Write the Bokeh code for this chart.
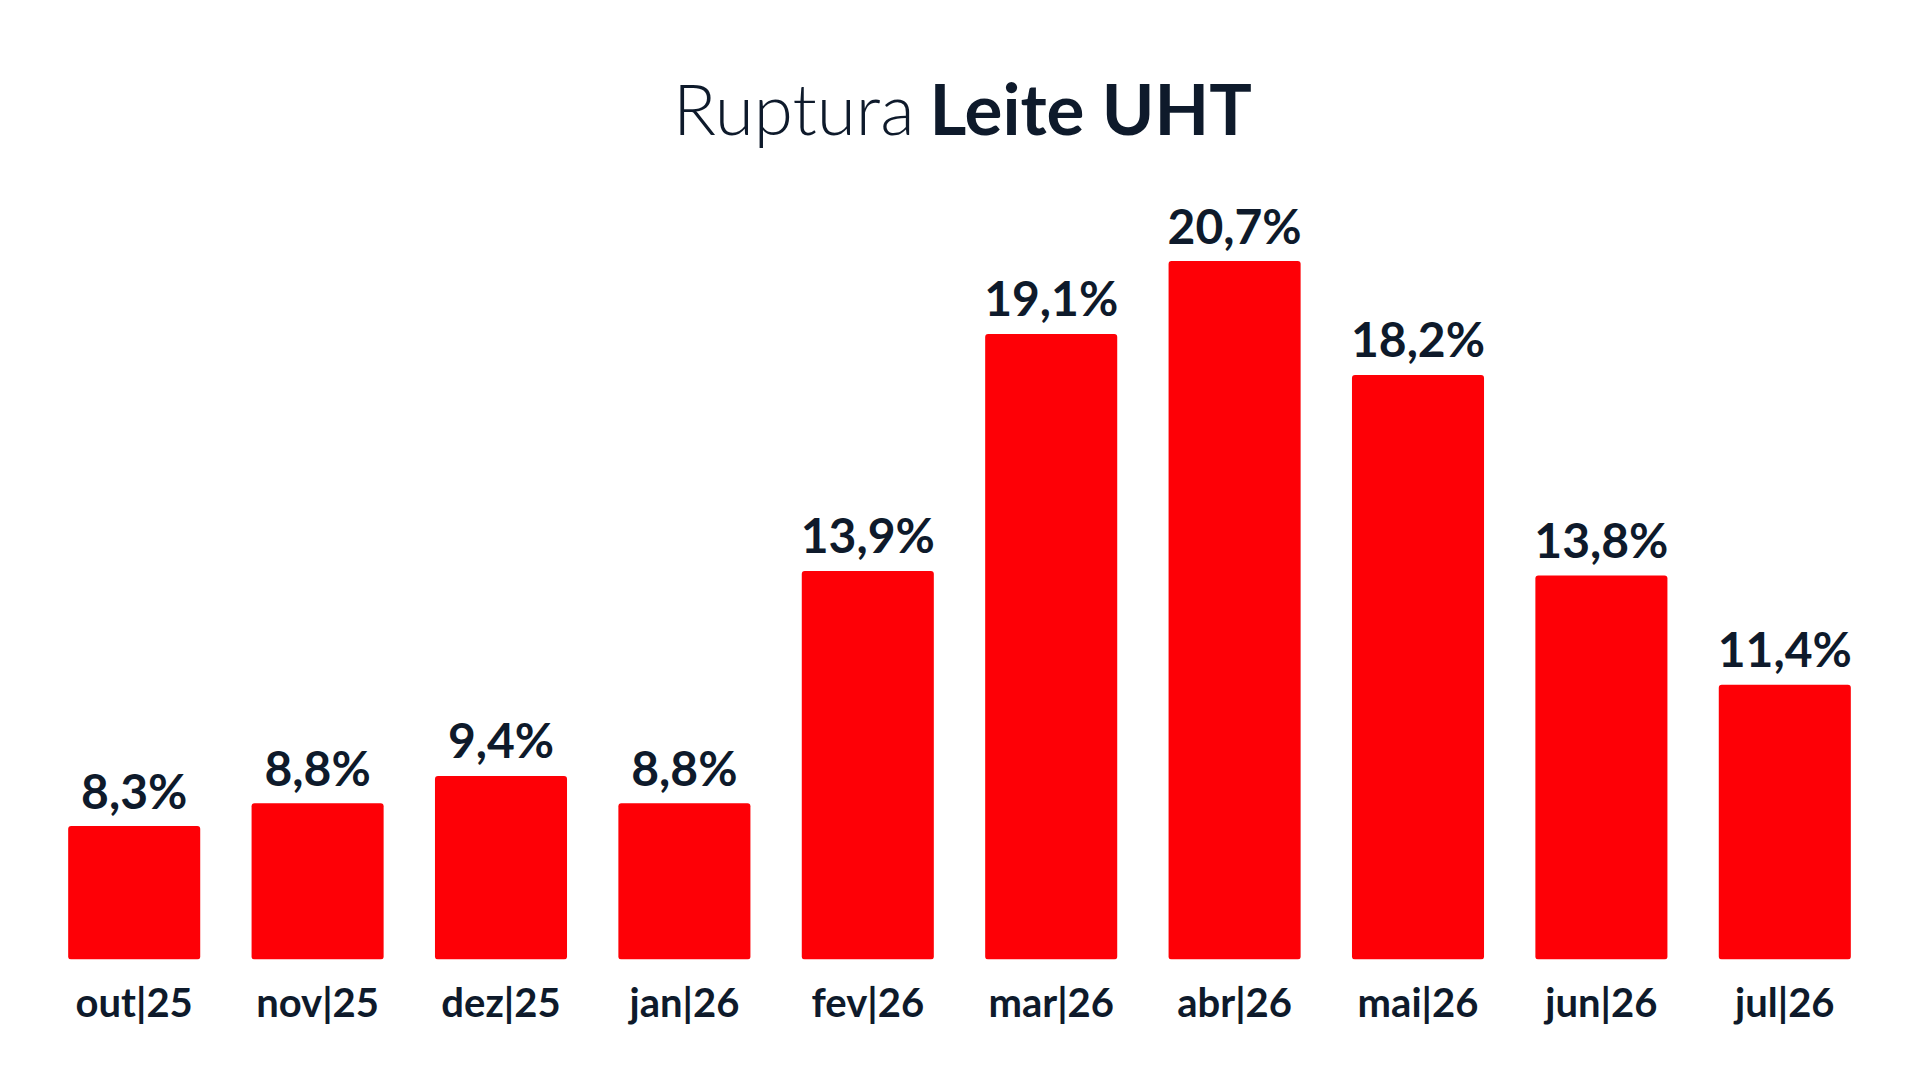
from bokeh.plotting import figure
from bokeh.models import ColumnDataSource, FactorRange, Range1d, Label
from bokeh.core.properties import value
from bokeh.embed import file_html
from bokeh.resources import INLINE

# ---- data ----
months = ["out|25", "nov|25", "dez|25", "jan|26", "fev|26",
          "mar|26", "abr|26", "mai|26", "jun|26", "jul|26"]
ruptura = [8.3, 8.8, 9.4, 8.8, 13.9, 19.1, 20.7, 18.2, 13.8, 11.4]
labels = ["8,3%", "8,8%", "9,4%", "8,8%", "13,9%",
          "19,1%", "20,7%", "18,2%", "13,8%", "11,4%"]
title_light = "Ruptura"
title_bold = "Leite UHT"

# ---- style ----
RED = "#FE0006"
INK = "#0E1A2B"
Y0 = 5.37          # axis baseline value
Y1 = 26.42         # top of the visible range

W, H = 1904, 1064
BL, BR, BT, BB = 42, 28, 0, 105

src = ColumnDataSource(dict(m=months, v=ruptura, lab=labels))

p = figure(width=W, height=H, x_range=FactorRange(*months, range_padding=0),
           y_range=Range1d(Y0, Y1), output_backend="svg", toolbar_location=None,
           min_border_left=BL, min_border_right=BR, min_border_top=BT,
           min_border_bottom=BB, background_fill_color="white",
           border_fill_color="white", outline_line_color=None)

p.vbar(x="m", top="v", bottom=Y0, width=0.72, source=src,
       fill_color=RED, line_color=None, border_radius=3)

p.text(x="m", y="v", text="lab", source=src, text_align="center",
       text_baseline="alphabetic", y_offset=-36,
       text_font=value("Lato"), text_font_style="bold",
       text_font_size="48px", text_color=INK)

p.add_layout(Label(x=872, y=852, x_units="screen", y_units="screen",
                   text=title_light, text_align="right",
                   text_baseline="alphabetic", text_font="Lato Light",
                   text_font_size="71px", text_color=INK))
p.add_layout(Label(x=887, y=852, x_units="screen", y_units="screen",
                   text=title_bold, text_align="left",
                   text_baseline="alphabetic", text_font="Lato",
                   text_font_style="bold",
                   text_font_size="71px", text_color=INK))

p.xgrid.visible = False
p.ygrid.visible = False
p.yaxis.visible = False
ax = p.xaxis[0]
ax.axis_line_color = None
ax.major_tick_line_color = None
ax.minor_tick_line_color = None
ax.major_tick_in = 0
ax.major_tick_out = 0
ax.major_label_standoff = 18
ax.major_label_text_font = "Lato"
ax.major_label_text_font_style = "bold"
ax.major_label_text_font_size = "40px"
ax.major_label_text_color = INK

open("out.html", "w").write(file_html(p, INLINE))
